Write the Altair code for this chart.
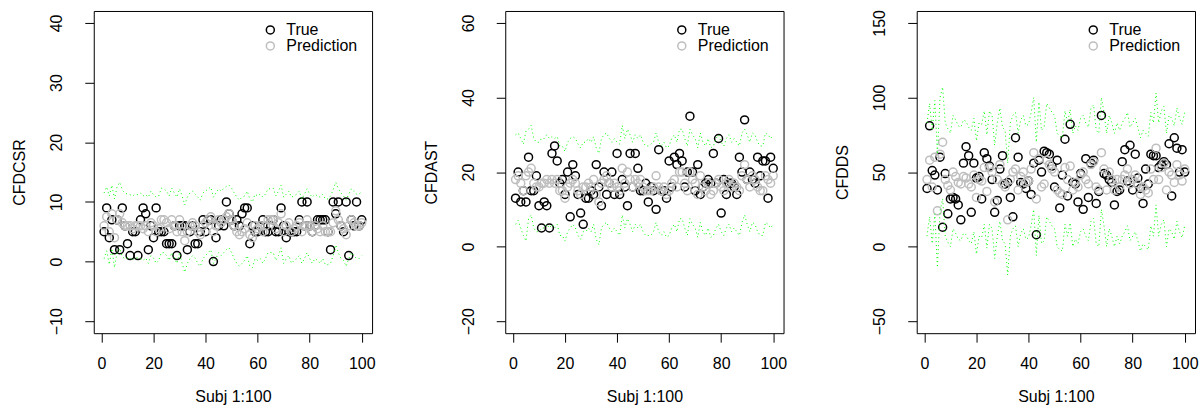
import altair as alt
import pandas as pd

subj = list(range(1, 101))
x_ticks = [0, 20, 40, 60, 80, 100]

# ---------------- Panel 1: CFDCSR ----------------
csr_true = [5, 9, 4, 7, 2, 7, 2, 9, 6, 3,
            1, 5, 5, 1, 7, 9, 8, 2, 6, 4,
            9, 5, 5, 5, 3, 3, 3, 6, 1, 6,
            6, 6, 2, 5, 6, 3, 3, 5, 7, 5,
            7, 7, 0, 4, 6, 7, 6, 10, 8, 7,
            6, 7, 6, 8, 9, 9, 3, 6, 5, 5,
            6, 7, 5, 5, 6, 7, 5, 5, 9, 6,
            4, 5, 5, 5, 5, 7, 10, 6, 10, 6,
            5, 6, 7, 7, 7, 7, 5, 2, 10, 8,
            10, 6, 5, 10, 1, 7, 6, 10, 6, 7]
csr_pred = [6, 7.5, 5, 8, 4, 7, 8, 6.5, 6, 6,
            6, 5.5, 6, 6, 6, 5.5, 6, 5, 6.5, 6,
            5, 5.5, 7, 7, 6.5, 5.5, 7, 6, 5, 7,
            5, 3.5, 5, 6, 6.5, 6, 5, 4.5, 6, 6.5,
            7, 7.5, 5, 6, 7, 6.5, 7, 7.5, 8, 7,
            6, 5, 4.5, 5, 5.5, 6.5, 4.5, 4, 6, 5.5,
            6, 5, 6, 7, 7, 7, 5.5, 6.5, 8, 5,
            6, 6.5, 5, 5.5, 6, 6.5, 5, 6, 7, 6,
            5, 6, 5.5, 5, 6, 5, 5, 5, 6.5, 8.5,
            7, 6, 5.5, 4.5, 6, 7, 6.5, 6, 6, 6.5]
csr_upper = [11.5, 12.5, 11, 12.8, 10.5, 12.5, 13.3, 12, 11.5, 11.3,
             11.2, 11, 11.3, 11.2, 11.5, 11, 11.2, 10.8, 11.8, 11.2,
             10.8, 11, 12.3, 12.2, 11.8, 11, 12.3, 11.5, 10.8, 12.2,
             11, 9.5, 10.8, 11.5, 11.8, 11.3, 10.8, 10.3, 11.5, 11.8,
             12.2, 12.5, 10.8, 11.5, 12.2, 11.8, 12.3, 12.6, 12.8, 12.3,
             11.5, 10.8, 10.3, 10.8, 11, 11.8, 10.5, 10, 11.3, 11,
             11.3, 10.8, 11.3, 12.2, 12.2, 12.3, 11, 11.8, 12.8, 10.8,
             11.3, 11.8, 10.8, 11, 11.3, 11.8, 10.5, 11.3, 12.2, 11.3,
             10.8, 11.3, 11, 10.8, 11.3, 10.5, 10.5, 11, 12, 13.3,
             12.2, 11.5, 11, 10.3, 11.3, 12.2, 11.8, 11.3, 11.3, 11.8]
csr_lower = [0.5, 1.8, -0.5, 2.2, -1, 1.5, 2.2, 0.8, 0.5, 0.6,
             0.6, 0.2, 0.7, 0.6, 0.5, 0.2, 0.6, -0.3, 1, 0.6,
             -0.3, 0.2, 1.5, 1.5, 1, 0.2, 1.5, 0.6, -0.3, 1.5,
             -0.3, -1.8, -0.3, 0.5, 1, 0.6, -0.3, -0.8, 0.5, 1,
             1.5, 2, -0.3, 0.5, 1.5, 1, 1.5, 2, 2.3, 1.5,
             0.5, -0.3, -0.8, -0.3, 0.2, 1, -0.8, -1, 0.5, 0.2,
             0.5, -0.3, 0.5, 1.5, 1.5, 1.5, 0.2, 1, 2.3, -0.3,
             0.5, 1, -0.3, 0.2, 0.5, 1, -0.3, 0.5, 1.5, 0.5,
             -0.3, 0.5, 0.2, -0.3, 0.5, -0.5, -0.5, -0.3, 1, 2.8,
             1.5, 0.5, 0.2, -0.8, 0.5, 1.5, 1, 0.5, 0.5, 1]

# ---------------- Panel 2: CFDAST ----------------
ast_true = [13, 20, 12, 15, 12, 24, 15, 15, 19, 11,
            5, 12, 11, 5, 25, 27, 23, 17, 18, 14,
            20, 8, 22, 19, 14, 9, 6, 13, 13, 15,
            14, 22, 16, 11, 20, 14, 17, 20, 14, 25,
            14, 18, 16, 11, 25, 16, 25, 21, 15, 15,
            17, 12, 16, 15, 10, 26, 15, 15, 13, 23,
            16, 24, 22, 25, 23, 16, 20, 35, 20, 15,
            22, 14, 16, 17, 18, 17, 25, 17, 29, 9,
            18, 14, 17, 17, 16, 14, 24, 20, 34, 18,
            20, 18, 17, 24, 19, 23, 23, 13, 24, 21]
ast_pred = [18, 19, 17, 15, 19, 20, 21, 17, 16, 16,
            17, 17, 18, 17, 18, 17, 18, 15, 15, 13,
            16, 17, 18, 17, 15, 14, 16, 16, 17, 16,
            18, 14, 12, 17, 18, 19, 17, 16, 17, 16,
            15, 21, 17, 20, 18, 16, 18, 17, 18, 16,
            15, 15, 15, 16, 19, 16, 15, 16, 14, 15,
            17, 18, 16, 20, 20, 17, 15, 20, 18, 17,
            14, 19, 16, 15, 17, 14, 15, 17, 18, 16,
            15, 17, 18, 16, 17, 16, 15, 19, 22, 18,
            16, 19, 18, 16, 15, 15, 19, 18, 17, 19]
ast_upper = [30, 30.5, 29, 27.5, 31, 31.5, 32.5, 29, 28, 28,
             29, 29, 30, 29, 29.5, 29, 29.5, 27, 27, 25.5,
             28, 29, 29.5, 29, 27.5, 26.5, 28, 28, 29, 28,
             29.5, 26.5, 25, 29, 30, 30.5, 29, 28, 29, 28,
             27.5, 32.5, 29, 31.5, 30, 28, 30, 29, 30, 28,
             27, 27, 27.5, 28, 30.5, 28, 27, 28, 26.5, 27,
             29, 30, 28, 31.5, 31.5, 29, 27, 31.5, 30, 29,
             26.5, 30.5, 28, 27, 29, 26.5, 27, 29, 30, 28,
             27, 29, 30, 28, 29, 28, 27, 30.5, 31.5, 30,
             28, 30.5, 30, 28, 27, 27, 30.5, 30, 29, 30]
ast_lower = [6, 7, 5, 3, 1.5, 7.5, 8.5, 5, 4, 4,
             5, 5, 6, 5, 6, 5, 6, 3, 3, 1.5,
             4, 5, 6, 5, 3, 2, 4, 4, 5, 4,
             6, 2, 0.5, 5, 6, 6.5, 5, 4, 5, 4,
             3, 8.5, 5, 7.5, 6, 4, 6, 5, 6, 4,
             3, 3, 3, 4, 6.5, 4, 3, 4, 2.5, 3,
             5, 6, 4, 7.5, 7.5, 5, 3, 7.5, 6, 5,
             2.5, 6.5, 4, 3, 5, 2.5, 3, 5, 6, 4,
             3, 5, 6, 4, 5, 4, 3, 6.5, 8.5, 6,
             4, 6.5, 6, 4, 3, 3, 6.5, 6, 5, 6]

# ---------------- Panel 3: CFDDS ----------------
dds_true = [39, 81, 51, 48, 38, 60, 13, 49, 22, 32,
            33, 32, 28, 18, 56, 67, 61, 23, 56, 46,
            47, 32, 63, 59, 54, 45, 23, 31, 52, 61,
            42, 43, 33, 20, 73, 60, 43, 42, 39, 44,
            35, 56, 8, 58, 50, 64, 63, 62, 54, 40,
            58, 26, 48, 72, 34, 82, 43, 42, 30, 49,
            25, 59, 33, 56, 58, 29, 37, 88, 49, 48,
            45, 43, 28, 37, 38, 57, 65, 44, 68, 38,
            62, 46, 39, 29, 52, 42, 62, 61, 61, 53,
            55, 57, 55, 69, 34, 73, 66, 50, 65, 50]
dds_pred = [45, 58, 40, 60, 24, 62, 70, 45, 41, 38,
            50, 47, 43, 42, 47, 46, 42, 40, 48, 33,
            45, 44, 53, 37, 53, 50, 30, 45, 55, 42,
            40, 18, 45, 50, 52, 38, 47, 50, 43, 44,
            52, 63, 32, 59, 40, 42, 58, 55, 52, 50,
            38, 36, 35, 53, 45, 54, 38, 43, 40, 48,
            50, 45, 42, 55, 57, 40, 38, 63, 52, 38,
            50, 45, 38, 45, 40, 45, 48, 52, 42, 45,
            48, 42, 35, 40, 38, 36, 52, 45, 66, 45,
            53, 56, 38, 50, 48, 43, 55, 48, 44, 52]
dds_upper = [83, 96, 78, 98, 62, 100, 107, 83, 79, 76,
             88, 85, 81, 80, 85, 84, 80, 78, 86, 71,
             83, 82, 91, 75, 91, 88, 68, 83, 93, 80,
             78, 56, 83, 88, 90, 76, 85, 88, 81, 82,
             90, 100, 70, 97, 78, 80, 96, 93, 90, 88,
             76, 74, 73, 91, 83, 92, 76, 81, 78, 86,
             88, 83, 80, 93, 95, 78, 76, 100, 90, 76,
             88, 83, 76, 83, 78, 83, 86, 90, 80, 83,
             86, 80, 73, 78, 76, 74, 90, 83, 103, 83,
             91, 94, 76, 88, 86, 81, 93, 86, 82, 90]
dds_lower = [7, 20, 2, 22, -14, 24, 32, 7, 3, 0,
             12, 9, 5, 4, 9, 8, 4, 2, 10, -5,
             7, 6, 15, -1, 15, 12, -8, 7, 17, 4,
             2, -19, 7, 12, 14, 0, 9, 12, 5, 6,
             14, 25, -6, 21, 2, 4, 20, 17, 14, 12,
             0, -2, -3, 15, 7, 16, 0, 5, 2, 10,
             12, 7, 4, 17, 19, 2, 0, 25, 14, 0,
             12, 7, 0, 7, 2, 7, 10, 14, 4, 7,
             10, 4, -3, 2, 0, -2, 14, 7, 28, 7,
             15, 18, 0, 12, 10, 5, 17, 10, 6, 14]

FONT = "Liberation Sans"


def panel(title, true_vals, pred_vals, upper, lower, ydomain, yticks):
    pts = pd.DataFrame({
        "subj": subj + subj,
        "value": true_vals + pred_vals,
        "series": ["True"] * 100 + ["Prediction"] * 100,
        "order": list(range(200)),
    })
    bnd = pd.DataFrame({
        "subj": subj + subj,
        "value": upper + lower,
        "bound": ["upper"] * 100 + ["lower"] * 100,
    })
    x = alt.X("subj:Q",
              scale=alt.Scale(domain=[-2.96, 103.96], nice=False, zero=False),
              axis=alt.Axis(values=x_ticks, title="Subj 1:100", format="d"))
    y = alt.Y("value:Q",
              scale=alt.Scale(domain=ydomain, nice=False, zero=False),
              axis=alt.Axis(values=yticks, title=title, format="d",
                            labelAngle=-90, labelAlign="center",
                            labelBaseline="bottom"))
    points = alt.Chart(pts).mark_point(
        shape="circle", filled=False, size=64, strokeWidth=1.5, opacity=1
    ).encode(
        x=x, y=y,
        order="order:Q",
        color=alt.Color(
            "series:N",
            scale=alt.Scale(domain=["True", "Prediction"],
                            range=["#000000", "#BEBEBE"]),
            legend=alt.Legend(title=None, orient="none", legendX=169, legendY=11,
                              symbolType="circle", symbolSize=64,
                              symbolStrokeWidth=1.5, symbolFillColor="transparent",
                              labelFontSize=16, labelFont=FONT,
                              labelColor="black", labelOffset=8,
                              rowPadding=0, padding=0),
        ),
    )
    lines = alt.Chart(bnd).mark_line(
        color="#00FF00", strokeDash=[1, 3], strokeWidth=1
    ).encode(x=x, y=y, detail="bound:N")
    return alt.layer(points, lines).properties(width=279, height=323)


p1 = panel("CFDCSR", csr_true, csr_pred, csr_upper, csr_lower,
           [-12, 42], [-10, 0, 10, 20, 30, 40])
p2 = panel("CFDAST", ast_true, ast_pred, ast_upper, ast_lower,
           [-23.2, 63.2], [-20, 0, 20, 40, 60])
p3 = panel("CFDDS", dds_true, dds_pred, dds_upper, dds_lower,
           [-58, 158], [-50, 0, 50, 100, 150])

chart = alt.hconcat(p1, p2, p3, spacing=46.5).resolve_scale(
    color="independent"
).resolve_legend(color="independent").properties(
    padding={"left": 11, "top": 8.5, "right": 0, "bottom": 0},
    background="white",
).configure_view(
    stroke="black", strokeWidth=1
).configure_axis(
    domain=False, grid=False,
    tickColor="black", tickSize=9, tickWidth=1,
    labelFont=FONT, labelFontSize=16, labelColor="black",
    titleFont=FONT, titleFontSize=16, titleColor="black",
    titleFontWeight="normal",
).configure_axisX(
    labelPadding=13, titlePadding=17.5,
).configure_axisY(
    labelPadding=20, titlePadding=21,
)

chart.save("out.html", embed_options={"renderer": "svg", "actions": False})
